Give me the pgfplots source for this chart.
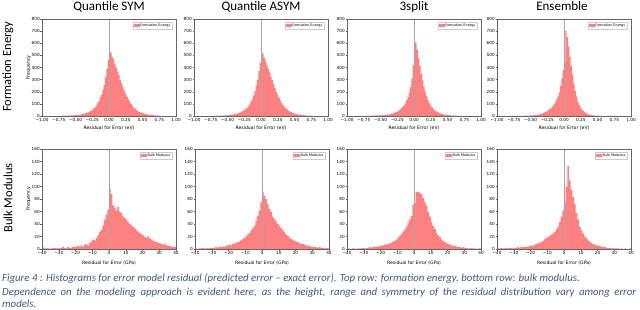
\documentclass[border=0pt]{standalone}
\usepackage{fontspec}
\setmainfont{Carlito}
\newfontfamily\djv{DejaVu Sans}
\usepackage{pgfplots}
\usepackage{pgfplotstable}
\pgfplotsset{compat=1.18}
\definecolor{histred}{RGB}{255,128,128}
\definecolor{capcol}{HTML}{42597F}

% Formation energy: counts per 0.02 eV bin, left edges -0.80 ... 0.78 (last row closes)
\pgfplotstableread{
qs qa ts en
1 1 1 0
2 1 1 1
1 2 1 1
2 1 2 1
2 2 1 1
3 2 3 2
2 3 2 1
3 2 2 2
3 3 3 2
4 3 3 2
4 4 3 3
5 4 4 3
5 5 4 3
6 6 5 4
7 6 6 4
8 7 6 5
9 8 7 5
10 9 8 6
12 11 9 7
14 13 10 8
16 15 12 12
19 17 14 14
22 20 16 17
26 24 19 20
30 28 22 24
36 33 26 29
42 40 31 35
50 48 37 42
60 57 44 50
72 68 52 58
86 80 62 68
108 96 74 80
122 118 88 95
153 140 105 112
178 170 128 135
218 205 155 160
255 250 190 195
322 300 240 250
388 370 310 310
462 440 420 380
540 535 620 440
522 515 600 705
485 480 545 650
468 455 480 575
425 420 415 490
402 390 350 410
365 360 295 340
338 325 245 270
296 295 200 210
272 265 165 160
240 230 132 120
210 200 108 90
185 175 88 68
160 150 72 52
140 128 58 40
120 108 47 31
100 90 39 24
85 76 32 18
72 64 26 14
60 54 22 11
50 45 18 8
42 38 15 6
35 32 12 5
30 27 10 4
25 22 9 3
21 19 7 3
18 16 6 2
15 13 5 2
12 11 4 2
10 9 4 1
9 8 3 1
8 7 3 1
7 6 2 1
6 5 2 1
5 4 2 0
4 4 1 1
4 3 1 0
3 3 1 0
2 2 1 1
2 2 1 0
0 0 0 0
}\toptab

% Bulk modulus: counts per 1 GPa bin, left edges -40 ... 39 (last row closes)
\pgfplotstableread{
bq ba bt be
3 1 0 1
1 0 1 1
1 1 0 2
2 1 1 1
0 2 1 1
1 1 0 2
1 1 1 1
2 2 1 2
1 1 1 2
2 2 2 1
1 2 1 2
2 2 2 2
3 3 2 3
2 2 3 2
1 4 2 3
3 3 3 3
2 4 3 3
2 3 4 4
3 5 4 4
4 6 5 5
3 7 5 6
5 6 6 5
4 8 7 7
6 9 7 8
4 10 8 9
7 11 9 10
8 12 10 11
6 14 12 13
10 16 13 16
12 18 15 18
15 20 18 19
14 23 21 21
18 26 24 23
22 30 28 25
27 33 31 27
31 37 36 32
38 45 42 36
47 53 47 44
55 62 53 52
63 75 71 62
97 92 74 74
88 85 92 100
70 80 91 133
66 72 90 110
62 64 88 95
68 60 82 84
60 52 76 72
58 48 70 58
52 44 60 47
50 40 52 36
47 37 43 30
44 34 37 25
40 30 32 20
38 27 26 17
36 23 22 14
33 21 19 12
30 18 15 10
28 16 13 8
26 15 11 7
24 13 9 6
22 12 8 5
19 11 7 5
18 9 6 4
21 8 5 3
17 8 5 3
15 7 4 2
13 6 3 2
12 5 3 2
11 5 2 1
10 4 3 1
9 4 2 1
8 3 2 1
7 3 1 1
8 2 1 0
6 3 2 1
5 2 1 0
5 2 1 1
4 1 0 0
3 2 1 0
4 1 1 1
0 0 0 0
}\bottab

\pgfplotsset{
  hist/.style={
    scale only axis, width=134pt, anchor=north west,
    axis line style={black!60, line width=0.4pt},
    tick style={black!60, line width=0.3pt},
    tick align=outside, major tick length=1.5pt,
    xtick pos=left, ytick pos=left,
    /pgf/number format/assume math mode=true,
    tick label style={font=\djv\fontsize{4.2}{5}\selectfont, inner sep=0.6pt},
    label style={font=\djv\fontsize{4.6}{5.5}\selectfont},
    legend style={at={(0.97,0.97)}, anchor=north east, draw=black!20,
      font=\djv\fontsize{3.4}{4}\selectfont, inner sep=0.8pt, row sep=0pt,
      nodes={inner sep=0.6pt}},
    legend image code/.code={\fill[histred] (0pt,-1.3pt) rectangle (6pt,1.3pt);},
    axis on top,
  },
  toprow/.style={hist, height=97pt,
    xmin=-1, xmax=1, ymin=0, ymax=800,
    xtick={-1,-0.75,-0.5,-0.25,0,0.25,0.5,0.75,1},
    xticklabels={−1.00,−0.75,−0.50,−0.25,0.00,0.25,0.50,0.75,1.00},
    ytick={0,100,200,300,400,500,600,700,800},
    yticklabels={0,100,200,300,400,500,600,700,800},
    xlabel={Residual for Error (eV)},
    x label style={at={(axis description cs:0.5,-0.125)}, anchor=center},
    y label style={at={(axis description cs:-0.1,0.5)}, anchor=center},
  },
  botrow/.style={hist, height=100pt,
    xmin=-40, xmax=40, ymin=0, ymax=160,
    xtick={-40,-30,-20,-10,0,10,20,30,40},
    xticklabels={−40,−30,−20,−10,0,10,20,30,40},
    ytick={0,20,40,60,80,100,120,140,160},
    yticklabels={0,20,40,60,80,100,120,140,160},
    xlabel={Residual for Error (GPa)},
    x label style={at={(axis description cs:0.5,-0.14)}, anchor=center},
    y label style={at={(axis description cs:-0.1,0.5)}, anchor=center},
  },
}

\newcommand{\tophist}[1]{%
  \addplot[const plot, fill=histred, draw=none] table[x expr=\coordindex*0.02-0.8, y=#1] {\toptab} \closedcycle;
  \addlegendentry{Formation Energy}
  \addplot[forget plot, black!35, line width=0.4pt] coordinates {(0,0) (0,800)};
}
\newcommand{\bothist}[1]{%
  \addplot[const plot, fill=histred, draw=none] table[x expr=\coordindex-40, y=#1] {\bottab} \closedcycle;
  \addlegendentry{Bulk Modulus}
  \addplot[forget plot, black!35, line width=0.4pt] coordinates {(0,0) (0,160)};
}

\begin{document}
\begin{tikzpicture}
\useasboundingbox (0pt,0pt) rectangle (640pt,-310pt);

% column titles
\begin{scope}[every node/.style={font=\fontsize{13}{15}\selectfont, anchor=base, inner sep=0}]
\node at (109pt,-11pt) {Quantile SYM};
\node at (261pt,-11pt) {Quantile ASYM};
\node at (414pt,-11pt) {3split};
\node at (562pt,-11pt) {Ensemble};
\end{scope}

% row labels
\node[rotate=90, font=\fontsize{12.5}{14}\selectfont, anchor=center, inner sep=0] at (8pt,-67pt) {Formation Energy};
\node[rotate=90, font=\fontsize{12.5}{14}\selectfont, anchor=center, inner sep=0] at (8pt,-198pt) {Bulk Modulus};

% top row
\begin{axis}[toprow, at={(42pt,-19pt)}, ylabel={Frequency}]
\tophist{qs}
\end{axis}
\begin{axis}[toprow, at={(194pt,-19pt)}]
\tophist{qa}
\end{axis}
\begin{axis}[toprow, at={(347pt,-19pt)}]
\tophist{ts}
\end{axis}
\begin{axis}[toprow, at={(497pt,-19pt)}]
\tophist{en}
\end{axis}

% bottom row
\begin{axis}[botrow, at={(42pt,-149pt)}, ylabel={Frequency}]
\bothist{bq}
\end{axis}
\begin{axis}[botrow, at={(195pt,-149pt)}]
\bothist{ba}
\end{axis}
\begin{axis}[botrow, at={(347pt,-149pt)}]
\bothist{bt}
\end{axis}
\begin{axis}[botrow, at={(497pt,-149pt)}]
\bothist{be}
\end{axis}

% caption
\begin{scope}[every node/.style={font=\itshape\fontsize{10.8}{13}\selectfont, text=capcol, anchor=base west, inner sep=0}]
\node at (2pt,-281.5pt) {Figure 4 : Histograms for error model residual (predicted error – exact error). Top row: formation energy, bottom row: bulk modulus.};
\node at (2pt,-295pt) {\makebox[634pt][s]{Dependence on the modeling approach is evident here, as the height, range and symmetry of the residual distribution vary among error}};
\node at (2pt,-307.5pt) {models.};
\end{scope}
\end{tikzpicture}
\end{document}
